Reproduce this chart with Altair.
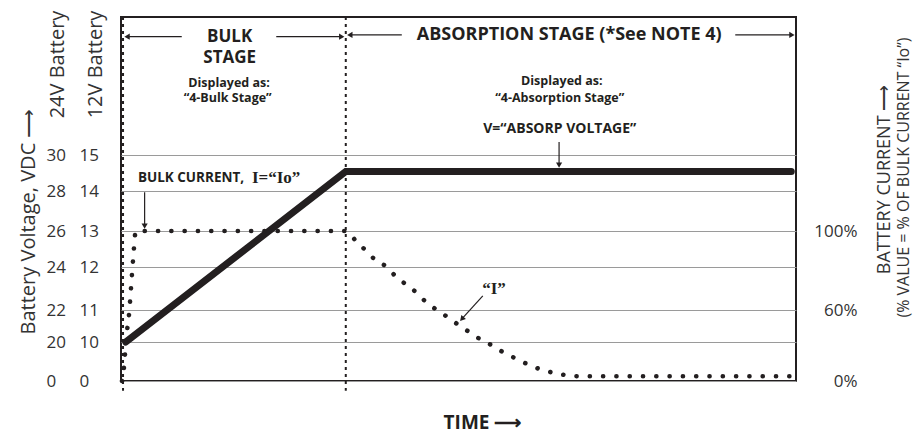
import altair as alt
import pandas as pd

# ------------------------------------------------------------------ data
# time is expressed as % of the drawn time span (0 = start of charge)
volt_time = [0.7, 33.3, 99.3]
volt_12v = [10.0, 14.54, 14.54]

cur_time = [0.15, 0.45, 0.75, 1.2, 1.5, 1.8, 2.2, 33.3, 34.8, 36.3, 37.8, 39.3,
            40.7, 42.2, 43.7, 45.2, 46.8, 48.4, 50.1, 51.7, 53.3, 55.0, 56.7,
            58.5, 60.3, 62.1, 64.0, 65.9, 67.9, 99.5]
cur_pct = [0, 12, 35, 57, 72, 86, 100, 100, 95, 90, 85, 82, 77, 73, 69, 64, 60,
           54, 47, 41, 35, 30, 24, 19, 14, 10, 7, 5, 4, 4]

stage_time = [0.3, 33.3]
stage_top = [19.0, 19.0]
stage_bottom = [-2.5, -2.5]

volt12_ticks = [0, 10, 11, 12, 13, 14, 15]
volt24_labels = ["0", "20", "22", "24", "26", "28", "30"]
pct_ticks = [0, 60, 100]
pct_labels = ["0%", "60%", "100%"]

# annotations (anchored in time / 12V-volt units)
stage_text = ["BULK", "STAGE"]
stage_t = [16.1, 16.1]
stage_v = [18.42, 17.82]

abs_text = ["ABSORPTION STAGE (*See NOTE 4)"]
abs_t = [66.4]
abs_v = [18.48]

sub_text = ["Displayed as:", "\u201c4-Bulk Stage\u201d", "Displayed as:", "\u201c4-Absorption Stage\u201d"]
sub_t = [16.0, 15.8, 65.3, 65.0]
sub_v = [17.10, 16.64, 17.14, 16.66]

vlabel_text = ["V=\u201cABSORP VOLTAGE\u201d"]
vlabel_t = [65.0]
vlabel_v = [15.75]

bulk_text = ["BULK CURRENT,"]
bulk_t = [2.5]
bulk_v = [14.36]

serif_text = ["I=\u201cIo\u201d", "\u201cI\u201d"]
serif_t = [19.4, 53.5]
serif_v = [14.36, 11.49]

seg_t1 = [0.9, 23.0, 33.9, 91.0, 3.5, 64.9, 53.6]
seg_t2 = [9.0, 32.7, 41.6, 99.4, 3.5, 64.9, 50.5]
seg_v1 = [18.43, 18.43, 18.48, 18.48, 13.97, 15.38, 11.33]
seg_v2 = [18.43, 18.43, 18.48, 18.48, 13.12, 14.72, 10.72]

head_left_t, head_left_v = [0.9, 33.9], [18.43, 18.48]
head_right_t, head_right_v = [32.7, 99.4], [18.43, 18.48]
head_down_t, head_down_v = [3.5, 64.9], [13.12, 14.72]
head_diag_t, head_diag_v = [50.5], [10.72]

# ------------------------------------------------------------------ helpers
W, H = 675, 364
INK = "#231f20"
GREY = "#333333"
FONT = "Open Sans"

vscale = alt.Scale(domain=[0, 10, 11, 12, 13, 14, 15, 19],
                   range=[364, 325, 293, 250, 214, 174, 138, 0], nice=False, zero=False)
pscale = alt.Scale(domain=[0, 60, 100], range=[364, 293, 214], nice=False, zero=False)
xscale = alt.Scale(domain=[0, 100], nice=False, zero=False)

xaxis = alt.Axis(title="TIME  \u27f6", labels=False, ticks=False, domain=False, grid=False,
                 titleX=361, titleY=41, titleAlign="center", titleBaseline="middle",
                 titleFontSize=19, titleFontWeight="bold", titleColor=INK)


def X(field="t"):
    return alt.X(f"{field}:Q", scale=xscale, axis=xaxis)


def Y(field="v", axis=None):
    return alt.Y(f"{field}:Q", scale=vscale, axis=axis)


def label_expr(vals, labels):
    expr = "''"
    for v, l in zip(vals, labels):
        expr = f"datum.value == {v} ? '{l}' : ({expr})"
    return expr


def df(**cols):
    return pd.DataFrame(cols)


def title_axis(orient, title, tx, ty, size):
    return alt.Axis(orient=orient, values=[0], labels=False, ticks=False, domain=False,
                    grid=False, title=title, titleAngle=270, titleX=tx, titleY=ty,
                    titleAlign="center", titleBaseline="middle", titleFontSize=size,
                    titleFontWeight="normal", titleColor=GREY)


volt_df = df(t=volt_time, v=volt_12v)
cur_df = df(t=cur_time, p=cur_pct)

axis12 = alt.Axis(orient="left", values=volt12_ticks, labelAlign="left", labelPadding=42,
                  ticks=False, domain=False, grid=True, gridColor="#9a9a9a", gridWidth=1,
                  labelFontSize=17, labelColor=GREY,
                  title="12V Battery", titleAngle=270, titleX=-26, titleY=47,
                  titleAlign="center", titleBaseline="middle", titleFontSize=20,
                  titleFontWeight="normal", titleColor=GREY)
axis24 = alt.Axis(orient="left", values=volt12_ticks,
                  labelExpr=label_expr(volt12_ticks, volt24_labels),
                  labelAlign="left", labelPadding=75, ticks=False, domain=False, grid=False,
                  labelFontSize=17, labelColor=GREY,
                  title="24V Battery", titleAngle=270, titleX=-64, titleY=47,
                  titleAlign="center", titleBaseline="middle", titleFontSize=20,
                  titleFontWeight="normal", titleColor=GREY)
axis_main = title_axis("left", "Battery Voltage, VDC  \u27f6", -93, 204, 20)
axis_pct = alt.Axis(orient="right", values=pct_ticks,
                    labelExpr=label_expr(pct_ticks, pct_labels),
                    labelAlign="right", labelPadding=61, ticks=False, domain=False, grid=False,
                    labelFontSize=17, labelColor=GREY,
                    title="BATTERY CURRENT  \u27f6", titleAngle=270, titleX=88, titleY=162,
                    titleAlign="center", titleBaseline="middle", titleFontSize=18,
                    titleFontWeight="normal", titleColor=GREY)
axis_pct2 = title_axis("right", "(% VALUE = % OF BULK CURRENT \u201cIo\u201d)", 107, 160, 16)

# ------------------------------------------------------------------ layers
axis24_layer = alt.Chart(volt_df).mark_line(strokeOpacity=0).encode(x=X(), y=Y(axis=axis24))
main_title_layer = alt.Chart(volt_df).mark_line(strokeOpacity=0).encode(x=X(), y=Y(axis=axis_main))
pct_title_layer = alt.Chart(cur_df).mark_line(strokeOpacity=0).encode(
    x=X(), y=alt.Y("p:Q", scale=pscale, axis=axis_pct2))

stage_rules = alt.Chart(df(t=stage_time, v=stage_top, v2=stage_bottom)).mark_rule(
    color=INK, strokeWidth=2, strokeDash=[3, 4]).encode(x=X(), y=Y(), y2="v2:Q")

volt_line = alt.Chart(volt_df).mark_line(
    color=INK, strokeWidth=7, strokeCap="round", strokeJoin="miter").encode(
    x=X(), y=Y(axis=axis12))

cur_line = alt.Chart(cur_df).mark_line(
    color=INK, strokeWidth=4.6, strokeDash=[0.1, 13.2], strokeCap="round",
    interpolate="monotone").encode(
    x=X(), y=alt.Y("p:Q", scale=pscale, axis=axis_pct))

segs = alt.Chart(df(t=seg_t1, t2=seg_t2, v=seg_v1, v2=seg_v2)).mark_rule(
    color=INK, strokeWidth=1.2).encode(x=X(), x2="t2:Q", y=Y(), y2="v2:Q")


def heads(ts, vs, shape, angle=0):
    return alt.Chart(df(t=ts, v=vs)).mark_point(
        shape=shape, filled=True, size=38, color=INK, opacity=1, angle=angle).encode(x=X(), y=Y())


def texts(txt, ts, vs, size, weight="bold", align="center", font=FONT):
    return alt.Chart(df(t=ts, v=vs, label=txt)).mark_text(
        font=font, fontSize=size, fontWeight=weight, align=align, baseline="middle",
        color=INK).encode(x=X(), y=Y(), text="label:N")


layers = [
    volt_line, axis24_layer, main_title_layer, pct_title_layer, stage_rules, cur_line, segs,
    heads(head_left_t, head_left_v, "triangle-left"),
    heads(head_right_t, head_right_v, "triangle-right"),
    heads(head_down_t, head_down_v, "triangle-down"),
    heads(head_diag_t, head_diag_v, "triangle-up", 222),
    texts(stage_text, stage_t, stage_v, 17),
    texts(abs_text, abs_t, abs_v, 18),
    texts(sub_text, sub_t, sub_v, 12.5),
    texts(vlabel_text, vlabel_t, vlabel_v, 14),
    texts(bulk_text, bulk_t, bulk_v, 13.5, align="left"),
    texts(serif_text, serif_t, serif_v, 17, align="left", font="Liberation Serif"),
]

chart = alt.layer(*layers).resolve_scale(y="independent").properties(
    width=W, height=H,
    autosize=alt.AutoSizeParams(type="none"),
    padding={"left": 113, "top": 9, "right": 117, "bottom": 52},
).configure_view(stroke=INK, strokeWidth=2).configure_axis(
    labelFont=FONT, titleFont=FONT)

chart.save("out.html", embed_options={"renderer": "svg", "actions": False})
